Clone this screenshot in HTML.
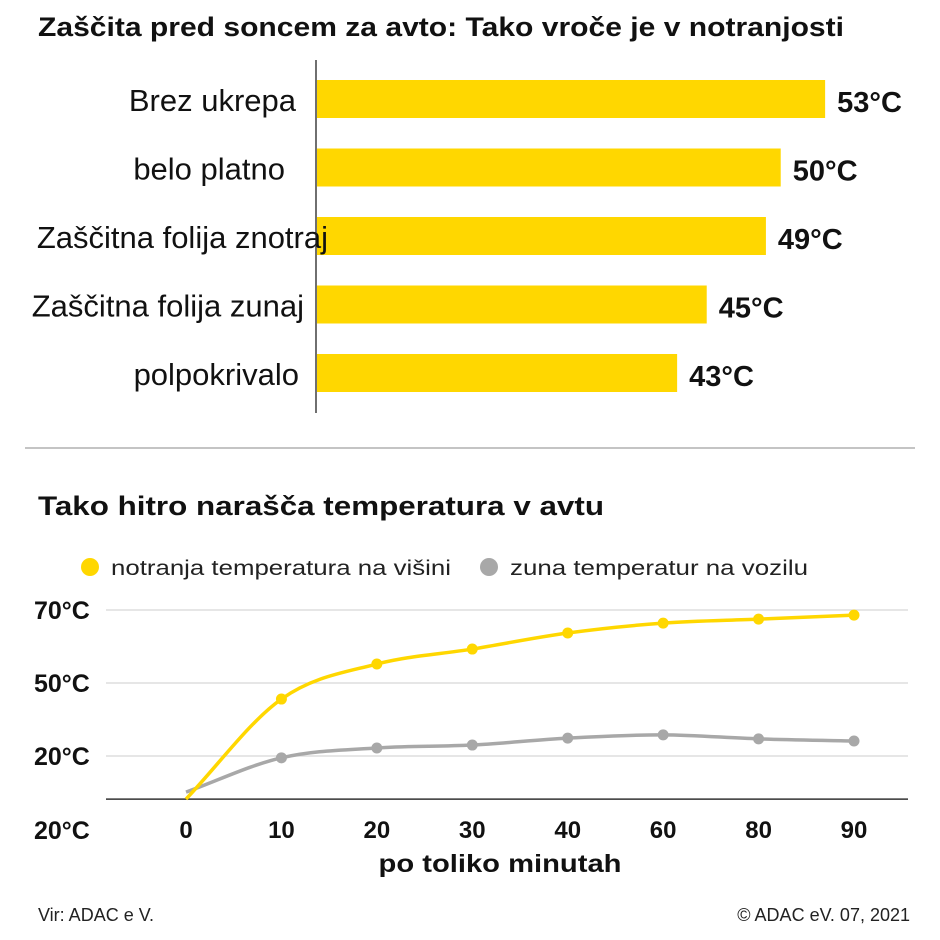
<!DOCTYPE html>
<html><head><meta charset="utf-8"><style>
body{margin:0;background:#fff}
svg{display:block;font-family:"Liberation Sans Narrow","Liberation Sans",sans-serif}
</style></head><body>
<svg id="c" width="940" height="940" viewBox="0 0 940 940">
<text x="38" y="36" font-size="27" font-weight="bold" fill="#111" textLength="806" lengthAdjust="spacingAndGlyphs">Zaščita pred soncem za avto: Tako vroče je v notranjosti</text>
<g id="bars"></g>
<line x1="316" y1="60" x2="316" y2="413" stroke="#222" stroke-width="1.3"/>
<line x1="25" y1="448" x2="915" y2="448" stroke="#888" stroke-width="1"/>
<text x="38" y="515" font-size="27" font-weight="bold" fill="#111" textLength="566" lengthAdjust="spacingAndGlyphs">Tako hitro narašča temperatura v avtu</text>
<g>
<circle cx="90" cy="567" r="9" fill="#FFD700"/>
<text x="111" y="575" font-size="21" fill="#222" textLength="340" lengthAdjust="spacingAndGlyphs">notranja temperatura na višini</text>
<circle cx="489" cy="567" r="9" fill="#a8a8a8"/>
<text x="510" y="575" font-size="21" fill="#222" textLength="298" lengthAdjust="spacingAndGlyphs">zuna temperatur na vozilu</text>
</g>
<g id="line"></g>
<text x="500" y="872" text-anchor="middle" font-size="25" font-weight="bold" fill="#111" textLength="243" lengthAdjust="spacingAndGlyphs">po toliko minutah</text>
<text x="38" y="921" font-size="18" fill="#222">Vir: ADAC e V.</text>
<text x="910" y="921" text-anchor="end" font-size="18" fill="#222">© ADAC eV. 07, 2021</text>
</svg>
<script>
const barLabels=["Brez ukrepa","belo platno","Zaščitna folija znotraj","Zaščitna folija zunaj","polpokrivalo"];
const barValues=[53,50,49,45,43];
const categories=["0","10","20","30","40","60","80","90"];
const insideTemps=[18.2,45.6,55.2,59.3,63.7,66.4,67.5,68.6];
const outsideTemps=[20.1,29.5,32.2,33,34.9,35.8,34.7,34.1];
const yTickValues=[70,50,30,18.2];
const yTickLabels=["70°C","50°C","20°C","20°C"];

const labelEnds=[296,285,328,304,299];
const NS="http://www.w3.org/2000/svg";
function mk(p,t,a){const e=document.createElementNS(NS,t);for(const k in a)e.setAttribute(k,a[k]);p.appendChild(e);return e;}
const bx=v=>316+(v-18.6)*14.8;
const by=i=>80+i*68.5;
const bars=document.getElementById('bars');
barValues.forEach((v,i)=>{
 const r=mk(bars,'rect',{x:317,y:by(i),width:bx(v)-317,height:38,fill:'#FFD700'});
 
 
 const l=mk(bars,'text',{x:labelEnds[i],y:by(i)+31,'text-anchor':'end','font-size':31,fill:'#111'});
 l.textContent=barLabels[i];
 
 
 const t=mk(bars,'text',{x:bx(v)+12,y:by(i)+32,'font-size':29,'font-weight':'bold',fill:'#111'});
 t.textContent=v+'°C';
 
 
});
const ly=v=>610+(70-v)*3.65;
const lx=i=>186+i*(854-186)/(categories.length-1);
const g=document.getElementById('line');
yTickValues.forEach((v,i)=>{
 if(i<yTickValues.length-1){const gl=mk(g,'line',{x1:106,x2:908,y1:ly(v),y2:ly(v),stroke:'#d8d8d8','stroke-width':1.3});
 
 }
 const t=mk(g,'text',{x:34,y:i<yTickValues.length-1?ly(v)+9:ly(v)+40,'font-size':25,'font-weight':'bold',fill:'#111'});
 t.textContent=yTickLabels[i];
 
 
});
const ax=mk(g,'line',{x1:106,x2:908,y1:ly(18.2),y2:ly(18.2),stroke:'#333','stroke-width':1.5});


categories.forEach((c,i)=>{
 const t=mk(g,'text',{x:lx(i),y:838,'text-anchor':'middle','font-size':24,'font-weight':'bold',fill:'#111'});
 t.textContent=c;
 
 
});
function path(vals){let d='';const p=vals.map((v,i)=>[lx(i),ly(v)]);
 d='M'+p[0];for(let i=1;i<p.length;i++){const a=p[i-1],b=p[i],dx=(b[0]-a[0])/3;
 const pa=p[i-2]||a,nb=p[i+1]||b;const s1=(b[1]-pa[1])/(b[0]-pa[0]),s2=(nb[1]-a[1])/(nb[0]-a[0]);
 d+=' C'+(a[0]+dx)+','+(a[1]+s1*dx)+' '+(b[0]-dx)+','+(b[1]-s2*dx)+' '+b;}return d;}
[[outsideTemps,'#a8a8a8','outside'],[insideTemps,'#FFD700','inside']].forEach(([vals,col,n])=>{
 const p=mk(g,'path',{d:path(vals),fill:'none',stroke:col,'stroke-width':3.5});
 
 
 vals.forEach((v,i)=>{if(i===0)return;
  const c=mk(g,'circle',{cx:lx(i),cy:ly(v),r:5.5,fill:col});
  
  });
});
</script>
</body></html>
